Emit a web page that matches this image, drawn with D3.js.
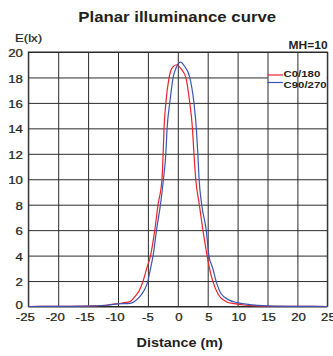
<!DOCTYPE html>
<html>
<head>
<meta charset="utf-8">
<script src="https://cdn.jsdelivr.net/npm/d3@7"></script>
<style>
  html, body { margin: 0; padding: 0; background: #fff; }
  svg { display: block; }
  text { font-family: "Liberation Sans", Arial, Helvetica, sans-serif; fill: #231f20; }
</style>
</head>
<body>
<svg id="chart" width="333" height="356"></svg>
<script>
// ---- data ----
const xTicks = [-25, -20, -15, -10, -5, 0, 5, 10, 15, 20, 25];
const yTicks = [0, 2, 4, 6, 8, 10, 12, 14, 16, 18, 20];
const seriesNames = ["C0/180", "C90/270"];

const distRed = [-25,-20,-15,-12,-10,-9,-8,-7.2,-6.5,-5.8,-5.2,-4.56,-3.85,-3.3,-2.65,-2.45,-2.3,-2.0,-1.45,-0.9,-0.2,0.5,1.34,2.0,2.45,2.7,3.0,3.6,4.2,4.9,5.3,5.85,6.7,8.1,9.5,11,13,15,20,25];
const valRed  = [0,0.01,0.03,0.1,0.22,0.3,0.38,0.77,1.2,2.0,3.0,4.0,6.0,8.0,10.0,12.0,14.0,16.0,18.0,18.8,19.0,18.7,18.0,16.0,14.0,12.0,10.0,8.0,6.0,4.0,3.0,2.0,1.0,0.38,0.22,0.12,0.05,0.02,0.01,0];

const distBlue = [-25,-20,-15,-12,-10,-8,-7.25,-6.36,-5.6,-5.0,-4.6,-4.13,-3.56,-2.9,-2.4,-2.0,-1.79,-1.34,-0.78,-0.2,0.45,1.1,2.0,2.7,3.1,3.35,3.56,4.0,4.75,5.2,5.85,6.4,7.25,8.6,10,12,15,20,25];
const valBlue  = [0,0.01,0.03,0.1,0.2,0.25,0.4,0.77,1.3,2.0,2.9,4.0,6.0,8.0,10.0,12.0,14.0,16.0,18.0,18.85,19.2,18.9,18.0,16.0,14.0,12.0,10.0,8.0,6.0,4.0,3.0,2.0,1.0,0.5,0.3,0.15,0.05,0.01,0];

// ---- layout ----
const L = 28.3, R = 327.3, T = 52, B = 306.5;
const SX = 1.2; // horizontal stretch of the reference's lettering
const colRed = "#e8232b", colBlue = "#3b56b2", gridCol = "#2b2b2b", txtCol = "#231f20";

const svg = d3.select("#chart");
const x = d3.scaleLinear().domain([-25, 25]).range([L, R]);
const y = d3.scaleLinear().domain([0, 20]).range([B, T]);

// horizontal gridlines
svg.append("g").attr("transform", `translate(${L},0)`)
  .call(d3.axisLeft(y).tickValues(yTicks).tickSize(-(R - L)).tickFormat(""))
  .call(g => g.select(".domain").remove())
  .call(g => g.selectAll("line").attr("stroke", gridCol).attr("stroke-width", 1));

// legend background (hides the horizontal gridline)
svg.append("rect").attr("x", 267.8).attr("y", 66).attr("width", 59).attr("height", 24).attr("fill", "#fff");

// vertical gridlines
svg.append("g").attr("transform", `translate(0,${B})`)
  .call(d3.axisBottom(x).tickValues(xTicks).tickSize(-(B - T)).tickFormat(""))
  .call(g => g.select(".domain").remove())
  .call(g => g.selectAll("line").attr("stroke", gridCol).attr("stroke-width", 1));

// frame
svg.append("rect").attr("x", L).attr("y", T).attr("width", R - L).attr("height", B - T)
  .attr("fill", "none").attr("stroke", gridCol).attr("stroke-width", 1);

// x tick labels
svg.append("g").attr("transform", `translate(0,${B})`)
  .call(d3.axisBottom(x).tickValues(xTicks).tickSize(0).tickPadding(7).tickFormat(d => String(d)))
  .call(g => g.select(".domain").remove())
  .call(g => g.selectAll("text")
    .attr("font-size", 11)
    .attr("fill", txtCol).attr("stroke", txtCol).attr("stroke-width", 0.25)
    .attr("x", d => d <= -10 ? -3.5 / SX : (d < 0 ? -0.5 / SX : 0.6 / SX))
    .attr("transform", `scale(${SX},1)`));

// y tick labels
svg.append("g").attr("transform", `translate(${L},0)`)
  .call(d3.axisLeft(y).tickValues(yTicks).tickSize(0).tickPadding(5.5).tickFormat(d => String(d)))
  .call(g => g.select(".domain").remove())
  .call(g => g.selectAll("text")
    .attr("font-size", 11)
    .attr("fill", txtCol).attr("stroke", txtCol).attr("stroke-width", 0.25)
    .attr("x", -5.5 / SX)
    .attr("y", d => d === 0 ? -2.5 : 0)
    .attr("dy", "0.42em")
    .attr("transform", `scale(${SX},1)`));

// curves
const line = d3.line().x(d => x(d[0])).y(d => y(d[1])).curve(d3.curveMonotoneX);
svg.append("path").datum(d3.zip(distRed, valRed))
  .attr("d", line).attr("fill", "none").attr("stroke", colRed).attr("stroke-width", 1.2);
svg.append("path").datum(d3.zip(distBlue, valBlue))
  .attr("d", line).attr("fill", "none").attr("stroke", colBlue).attr("stroke-width", 1.2);

// texts
function stretchedText(tx, ty, str, size, weight, anchor) {
  return svg.append("text")
    .attr("transform", `translate(${tx},${ty}) scale(${SX},1)`)
    .attr("font-size", size).attr("font-weight", weight)
    .attr("text-anchor", anchor).text(str);
}
stretchedText(177.2, 21.6, "Planar illuminance curve", 14, "bold", "middle");
stretchedText(15, 41.7, "E(lx)", 11, "normal", "start").attr("stroke", txtCol).attr("stroke-width", 0.25);
stretchedText(327.6, 49.2, "MH=10", 10, "bold", "end");
stretchedText(179.7, 347.3, "Distance (m)", 12, "bold", "middle");

// legend
const legY = [75, 82.5];
const legCols = [colRed, colBlue];
seriesNames.forEach((name, i) => {
  svg.append("line").attr("x1", 267.5).attr("x2", 283).attr("y1", legY[i]).attr("y2", legY[i])
    .attr("stroke", legCols[i]).attr("stroke-width", 1.2);
  stretchedText(283.5, [76.5, 87.5][i], name, 9.5, "bold", "start");
});
</script>
</body>
</html>
